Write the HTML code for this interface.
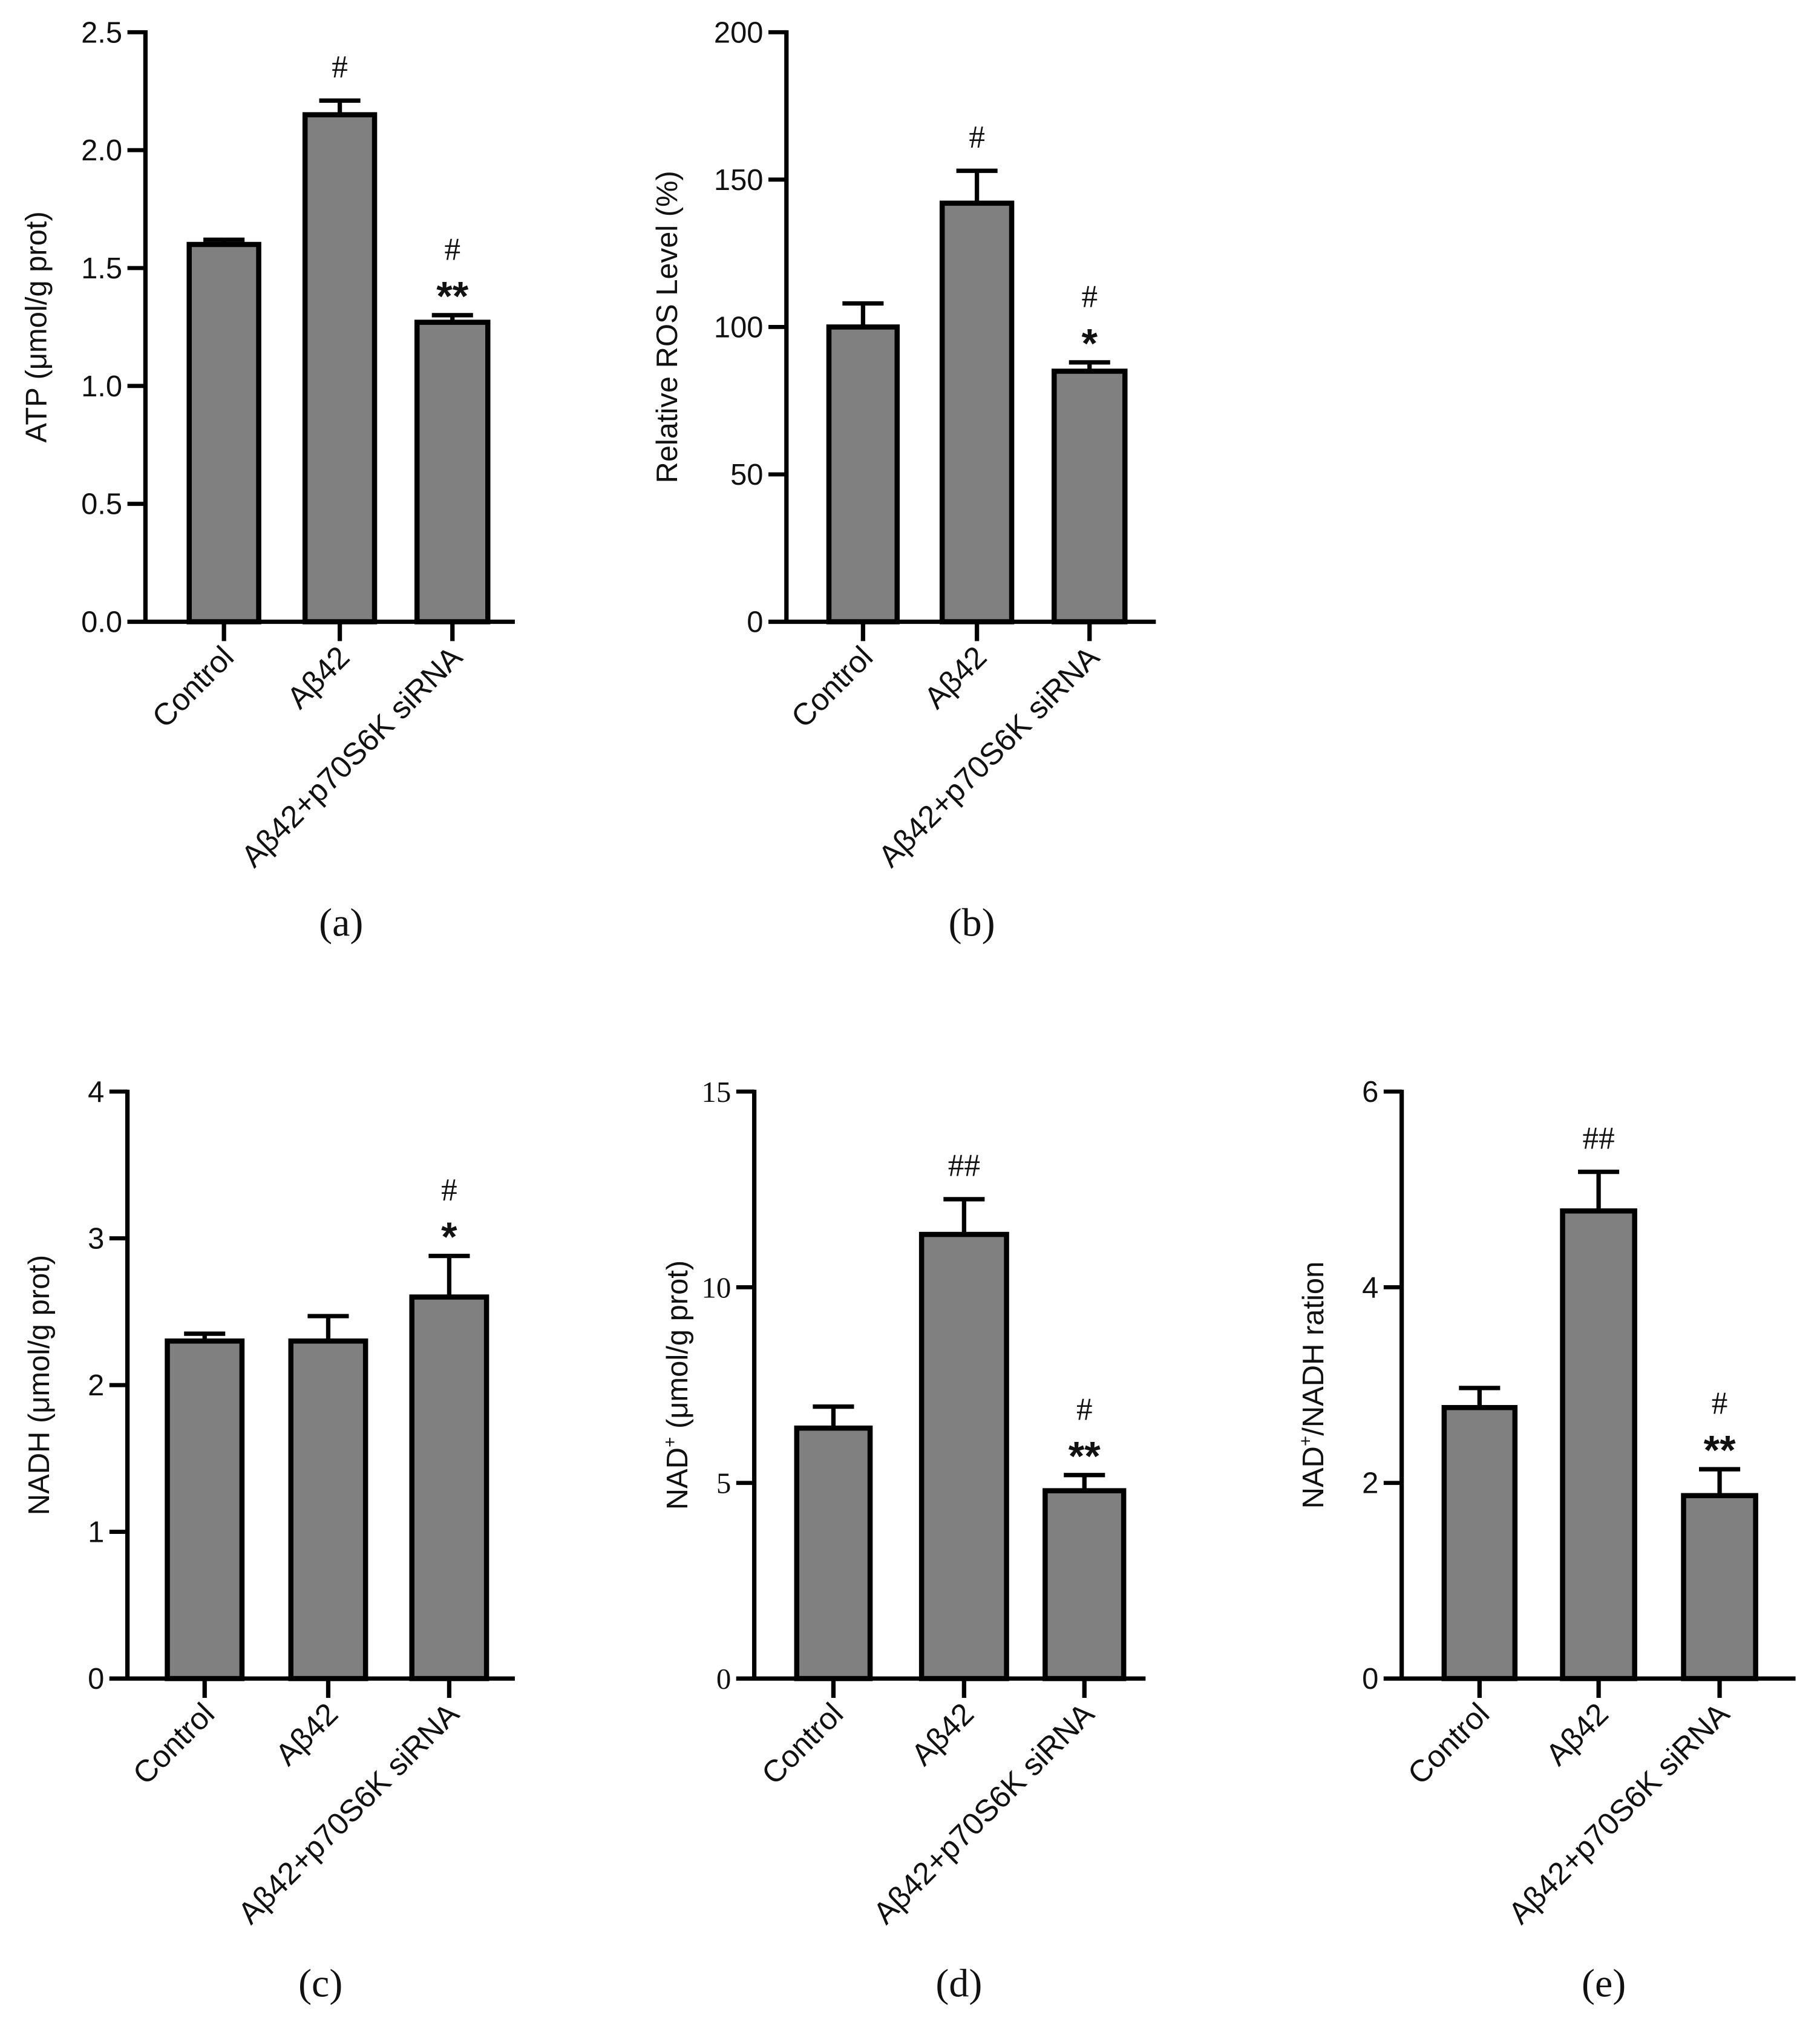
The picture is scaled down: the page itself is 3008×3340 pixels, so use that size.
<!DOCTYPE html>
<html><head><meta charset="utf-8"><style>html,body{margin:0;padding:0;background:#fff}svg{display:block}</style></head>
<body>
<svg id="fig" width="3008" height="3340" viewBox="0 0 1414 1570" xmlns="http://www.w3.org/2000/svg" font-family="Liberation Sans, Arial, sans-serif"></svg>
<script>
const categories = ["Control", "Aβ42", "Aβ42+p70S6K siRNA"];
const atpValues = [1.60, 2.15, 1.27];
const atpErrors = [0.02, 0.06, 0.03];
const atpTicks = ["0.0","0.5","1.0","1.5","2.0","2.5"];
const rosValues = [100, 142, 85];
const rosErrors = [8, 11, 3];
const rosTicks = ["0","50","100","150","200"];
const nadhValues = [2.30, 2.30, 2.60];
const nadhErrors = [0.05, 0.17, 0.28];
const nadhTicks = ["0","1","2","3","4"];
const nadValues = [6.4, 11.35, 4.8];
const nadErrors = [0.55, 0.9, 0.4];
const nadTicks = ["0","5","10","15"];
const ratioValues = [2.77, 4.78, 1.87];
const ratioErrors = [0.2, 0.4, 0.27];
const ratioTicks = ["0","2","4","6"];
const atpMarks = [[], ["#"], ["**","#"]];
const rosMarks = [[], ["#"], ["*","#"]];
const nadhMarks = [[], [], ["*","#"]];
const nadMarks = [[], ["##"], ["**","#"]];
const ratioMarks = [[], ["##"], ["**","#"]];

const NS = "http://www.w3.org/2000/svg";
const svg = document.getElementById("fig");
function el(tag, attrs, parent, text){
  const e = document.createElementNS(NS, tag);
  for (const k in attrs) e.setAttribute(k, attrs[k]);
  if (text !== undefined) e.textContent = text;
  (parent||svg).appendChild(e);
  return e;
}

function panel(cfg){
  const g = el("g", {});
  
  
  const ticks = cfg.ticks.map(Number);
  const ymax = ticks[ticks.length-1];
  const y = v => cfg.bottom - (v / ymax) * (cfg.bottom - cfg.top);
  const ya = el("line", {x1:cfg.ax, x2:cfg.ax, y1:cfg.top-1.5, y2:cfg.bottom+1.5, stroke:"#000","stroke-width":3.4}, g);
  
  
  cfg.ticks.forEach((t,i)=>{
    const ty = y(ticks[i]);
    const tl = el("line", {x1:cfg.ax-14, x2:cfg.ax, y1:ty, y2:ty, stroke:"#000","stroke-width":3.2}, g);
    
    
    const tx = el("text", {x:cfg.ax-18, y:ty+8, "text-anchor":"end","font-size":23, fill:"#111", "font-family": cfg.serifTicks ? "Liberation Serif, serif" : "Liberation Sans, sans-serif"}, g, t);
    
    
  });
  const xa = el("line", {x1:cfg.ax-14, x2:cfg.xend, y1:cfg.bottom, y2:cfg.bottom, stroke:"#000","stroke-width":3.4}, g);
  
  
  const cyT = (cfg.top + cfg.bottom)/2;
  const yt = el("text", {x:cfg.titleX, y:cyT, "text-anchor":"middle","font-size":23, fill:"#111", transform:`rotate(-90 ${cfg.titleX} ${cyT})`}, g);
  
  
  cfg.title(yt);
  categories.forEach((c,i)=>{
    const x0 = cfg.bars[i][0], x1 = cfg.bars[i][1], cx = (x0+x1)/2;
    const v = cfg.values[i], e = cfg.errors[i];
    const top = y(v), et = y(v+e);
    const eb = el("line", {x1:cx, x2:cx, y1:top, y2:et, stroke:"#000","stroke-width":3.4}, g);
    
    
    const ec = el("line", {x1:cx-16, x2:cx+16, y1:et, y2:et, stroke:"#000","stroke-width":3.4}, g);
    
    
    const r = el("rect", {x:x0+2, y:top, width:x1-x0-4, height:cfg.bottom-top, fill:"#808080", stroke:"#000","stroke-width":4}, g);
    
    
    const tk = el("line", {x1:cx, x2:cx, y1:cfg.bottom, y2:cfg.bottom+15, stroke:"#000","stroke-width":3.4}, g);
    
    
    const lx = cx + 9, ly = cfg.bottom + 29;
    const lb = el("text", {x:lx, y:ly, "text-anchor":"end","font-size":24, fill:"#111", transform:`rotate(-45 ${lx} ${ly})`}, g, c);
    
    
    const m = cfg.marks[i];
    let hashBase = et - 18;
    if (m.length === 2) {
      const st = el("text", {x:cx, y:et - 4, "text-anchor":"middle","font-size":32, "font-weight":"bold", fill:"#111"}, g, m[0]);
      
      
      hashBase = et - 43;
    }
    if (m.length) {
      const h = el("text", {x:cx, y:hashBase, "text-anchor":"middle","font-size":25, fill:"#111","font-family":"Liberation Serif, serif"}, g, m[m.length-1]);
      
      
    }
  });
  const pl = el("text", {x:cfg.labelX, y:cfg.labelY, "text-anchor":"middle","font-size":31, fill:"#111","font-family":"Liberation Serif, serif"}, g, cfg.label);
  
  
}
function sup(t, parts){
  parts.forEach(p=>{
    el("tspan", p.sup ? {"font-size":14, dy:-9} : (p.down ? {dy:9} : {}), t, p.t);
  });
}

panel({name:"panel-a-atp", ax:113, top:25, bottom:483, xend:400, ticks:atpTicks, values:atpValues, errors:atpErrors, marks:atpMarks,
  bars:[[145,203],[235,293],[322,381]], titleX:36, title:t=>{t.textContent="ATP  (μmol/g prot)";}, label:"(a)", labelX:265, labelY:727});
panel({name:"panel-b-ros", ax:611, top:25, bottom:483, xend:898, ticks:rosTicks, values:rosValues, errors:rosErrors, marks:rosMarks,
  bars:[[642,699],[730,788],[817,876]], titleX:526, title:t=>{t.textContent="Relative ROS Level  (%)";}, label:"(b)", labelX:755, labelY:727});
panel({name:"panel-c-nadh", ax:99, top:848, bottom:1304, xend:400, ticks:nadhTicks, values:nadhValues, errors:nadhErrors, marks:nadhMarks,
  bars:[[128,190],[224,286],[318,380]], titleX:38, title:t=>{t.textContent="NADH (μmol/g prot)";}, label:"(c)", labelX:249, labelY:1551});
panel({name:"panel-d-nad", ax:586, top:848, bottom:1304, xend:890, ticks:nadTicks, values:nadValues, errors:nadErrors, marks:nadMarks, serifTicks:true,
  bars:[[617,678],[714,784],[810,875]], titleX:534, title:t=>sup(t,[{t:"NAD"},{t:"+",sup:true},{t:" (μmol/g prot)",down:true}]), label:"(d)", labelX:745, labelY:1551});
panel({name:"panel-e-ratio", ax:1089, top:848, bottom:1304, xend:1395, ticks:ratioTicks, values:ratioValues, errors:ratioErrors, marks:ratioMarks,
  bars:[[1120,1179],[1212,1272],[1306,1366]], titleX:1028, title:t=>sup(t,[{t:"NAD"},{t:"+",sup:true},{t:"/NADH ration",down:true}]), label:"(e)", labelX:1246, labelY:1551});
</script>
</body></html>
